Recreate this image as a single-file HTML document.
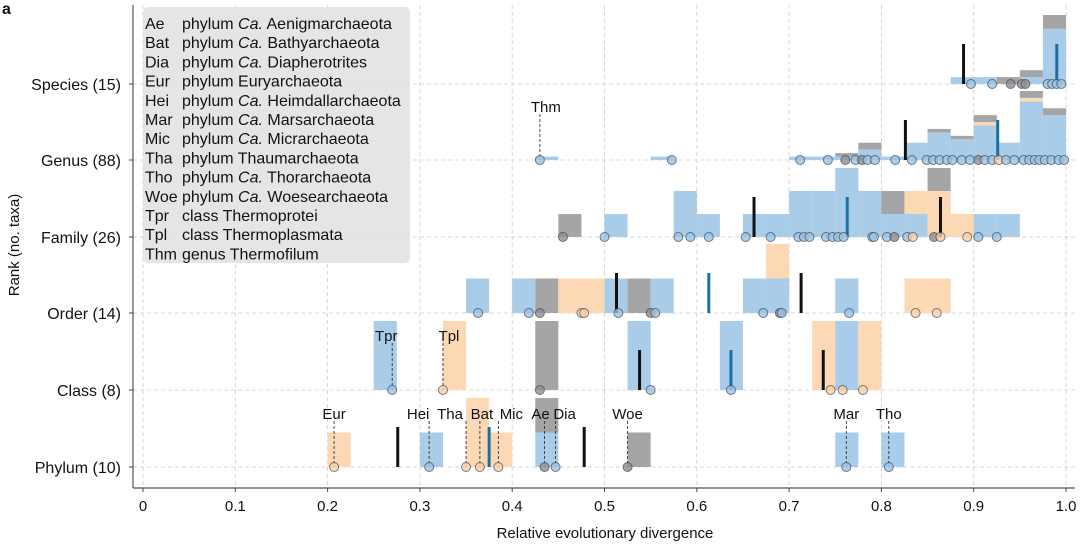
<!DOCTYPE html>
<html><head><meta charset="utf-8"><style>
body{margin:0;background:#fff}
svg{display:block;font-family:"Liberation Sans",sans-serif}
</style></head><body>
<svg id="c" width="1080" height="546"></svg>
<script>
// ---- data ----
const rowNames = ["Phylum (10)","Class (8)","Order (14)","Family (26)","Genus (88)","Species (15)"];
// bins: [binStart, blue, orange, gray]
const phylumBins = [[0.2,0,1,0],[0.3,1,0,0],[0.35,0,2,0],[0.375,0,1,0],[0.425,1,0,1],[0.525,0,0,1],[0.75,1,0,0],[0.8,1,0,0]];
const classBins = [[0.25,1,0,0],[0.325,0,1,0],[0.425,0,0,1],[0.525,1,0,0],[0.625,1,0,0],[0.725,0,1,0],[0.75,1,0,0],[0.775,0,1,0]];
const orderBins = [[0.35,1,0,0],[0.4,1,0,0],[0.425,0,0,1],[0.45,0,1,0],[0.475,0,1,0],[0.5,1,0,0],[0.525,0,0,1],[0.55,1,0,0],[0.65,1,0,0],[0.675,1,1,0],[0.75,1,0,0],[0.825,0,1,0],[0.85,0,1,0]];
const familyBins = [[0.45,0,0,1],[0.5,1,0,0],[0.575,2,0,0],[0.6,1,0,0],[0.65,1,0,0],[0.675,1,0,0],[0.7,2,0,0],[0.725,2,0,0],[0.75,3,0,0],[0.775,2,0,0],[0.8,1,0,1],[0.825,1,1,0],[0.85,0,2,1],[0.875,0,1,0],[0.9,1,0,0],[0.925,1,0,0]];
const genusBins = [[0.425,1,0,0],[0.55,1,0,0],[0.7,1,0,0],[0.725,1,0,0],[0.75,1,0,1],[0.775,3,0,2],[0.8,1,0,0],[0.825,5,0,0],[0.85,8,0,1],[0.875,6,0,1],[0.9,10,1,2],[0.925,5,0,0],[0.95,17,1,2],[0.975,13,0,2]];
const speciesBins = [[0.875,1,0,0],[0.9,1,0,0],[0.925,0,0,1],[0.95,1,0,1],[0.975,8,0,2]];
const allBins = [phylumBins,classBins,orderBins,familyBins,genusBins,speciesBins];
// points: [value, colour b/o/g]
const phylumPts = [[0.207,'o'],[0.31,'b'],[0.35,'o'],[0.365,'o'],[0.385,'o'],[0.435,'g'],[0.447,'b'],[0.525,'g'],[0.762,'b'],[0.808,'b']];
const classPts = [[0.27,'b'],[0.325,'o'],[0.43,'g'],[0.55,'b'],[0.637,'b'],[0.745,'o'],[0.758,'o'],[0.78,'o']];
const orderPts = [[0.363,'b'],[0.418,'b'],[0.43,'g'],[0.475,'o'],[0.478,'o'],[0.515,'b'],[0.55,'g'],[0.555,'b'],[0.672,'b'],[0.69,'g'],[0.692,'b'],[0.765,'b'],[0.837,'o'],[0.86,'o']];
const familyPts = [[0.455,'g'],[0.5,'b'],[0.58,'b'],[0.593,'b'],[0.613,'b'],[0.653,'b'],[0.68,'b'],[0.71,'b'],[0.716,'b'],[0.722,'b'],[0.74,'b'],[0.747,'b'],[0.753,'b'],[0.759,'b'],[0.79,'b'],[0.792,'b'],[0.806,'b'],[0.814,'g'],[0.828,'b'],[0.834,'o'],[0.857,'g'],[0.864,'o'],[0.893,'o'],[0.905,'b'],[0.925,'b']];
const genusPts = [[0.43,'b'],[0.573,'b'],[0.712,'b'],[0.742,'b'],[0.761,'g'],[0.772,'b'],[0.779,'g'],[0.785,'b'],[0.793,'b'],[0.815,'b'],[0.833,'b'],[0.849,'b'],[0.856,'b'],[0.863,'b'],[0.871,'b'],[0.877,'b'],[0.887,'b'],[0.896,'b'],[0.905,'g'],[0.912,'b'],[0.920,'b'],[0.927,'o'],[0.935,'b'],[0.944,'b'],[0.954,'b'],[0.96,'b'],[0.966,'b'],[0.971,'b'],[0.977,'b'],[0.984,'b'],[0.992,'b'],[0.998,'b']];
const speciesPts = [[0.897,'b'],[0.92,'b'],[0.94,'g'],[0.952,'g'],[0.956,'g'],[0.98,'b'],[0.985,'b'],[0.99,'b'],[0.995,'b']];
const allPts = [phylumPts,classPts,orderPts,familyPts,genusPts,speciesPts];
// median lines: [row, value, colour k/b]
const medLines = [[0,0.276,'k'],[0,0.478,'k'],[0,0.375,'b'],[1,0.538,'k'],[1,0.737,'k'],[1,0.637,'b'],[2,0.513,'k'],[2,0.713,'k'],[2,0.613,'b'],[3,0.662,'k'],[3,0.864,'k'],[3,0.763,'b'],[4,0.826,'k'],[4,0.926,'b'],[5,0.889,'k'],[5,0.99,'b']];
// labels: [row, value, text, labelY]
const annos = [[0,0.207,'Eur',413],[0,0.31,'Hei',413],[0,0.35,'Tha',413],[0,0.365,'Bat',413],[0,0.385,'Mic',413],[0,0.435,'Ae',413],[0,0.447,'Dia',413],[0,0.525,'Woe',413],[0,0.762,'Mar',413],[0,0.808,'Tho',413],[1,0.27,'Tpr',335],[1,0.325,'Tpl',335],[4,0.43,'Thm',106]];
const annoDx = [0,-11,-16,2,13,-4,9,0,0,0,-6,6,6];
const xTicks = [0,0.1,0.2,0.3,0.4,0.5,0.6,0.7,0.8,0.9,1.0];
const legendAbbr = ["Ae","Bat","Dia","Eur","Hei","Mar","Mic","Tha","Tho","Woe","Tpr","Tpl","Thm"];
const legendText = [["phylum ","Ca."," Aenigmarchaeota"],["phylum ","Ca."," Bathyarchaeota"],["phylum ","Ca."," Diapherotrites"],["phylum Euryarchaeota"],["phylum ","Ca."," Heimdallarchaeota"],["phylum ","Ca."," Marsarchaeota"],["phylum ","Ca."," Micrarchaeota"],["phylum Thaumarchaeota"],["phylum ","Ca."," Thorarchaeota"],["phylum ","Ca."," Woesearchaeota"],["class Thermoprotei"],["class Thermoplasmata"],["genus Thermofilum"]];

// ---- drawing ----
const svg=document.getElementById('c');const NS='http://www.w3.org/2000/svg';
const X=v=>143+923*v; const rowY=[467,390,313,237,160,84]; const Y=i=>rowY[i];
function el(t,a,p){const e=document.createElementNS(NS,t);for(const k in a)e.setAttribute(k,a[k]);(p||svg).appendChild(e);return e;}
const col={b:'#a9cce8',o:'#fdd8b5',g:'#a5a5a5'};
const ptCol={b:'#9cc2e2',o:'#f9cfa6',g:'#8f8f8f'};
// grid
const g0=el('g',{});
xTicks.forEach(t=>{el('line',{x1:X(t),x2:X(t),y1:5,y2:488,stroke:'#ccc','stroke-dasharray':'4,3','stroke-width':0.8},g0);});
rowY.forEach(y=>{el('line',{x1:133,x2:1075,y1:y,y2:y,stroke:'#ccc','stroke-dasharray':'4,3','stroke-width':0.8},g0);});
// bars
allBins.forEach((bins,r)=>{
  const mx=Math.max(...bins.map(b=>b[1]+b[2]+b[3]));const u=69/mx;
  bins.forEach(b=>{let y=Y(r);[['b',b[1]],['o',b[2]],['g',b[3]]].forEach(([c,n])=>{if(!n)return;const h=n*u;y-=h;
    const e=el('rect',{x:X(b[0]),y:y,width:X(b[0]+0.025)-X(b[0]),height:h,fill:col[c]});
    
    });});
});
// annotations
annos.forEach((a,i)=>{const x=X(a[1]);
  el('line',{x1:x,x2:x,y1:a[3]+8,y2:Y(a[0]),stroke:'#333','stroke-dasharray':'3,2','stroke-width':0.9});
  const t=el('text',{x:x+annoDx[i],y:a[3]+6,'text-anchor':'middle','font-size':15,fill:'#111'});t.textContent=a[2];
  
  });
// median lines
medLines.forEach(m=>{const e=el('line',{x1:X(m[1]),x2:X(m[1]),y1:Y(m[0])-40,y2:Y(m[0]),stroke:m[2]=='k'?'#111':'#1c6ea4','stroke-width':3});
  
  });
// points
allPts.forEach((pts,r)=>pts.forEach(p=>{const e=el('circle',{cx:X(p[0]),cy:Y(r),r:4.5,fill:ptCol[p[1]],'fill-opacity':0.8,stroke:'#3a4a58','stroke-opacity':0.7,'stroke-width':1});
  
  }));
// axes
el('line',{x1:133,x2:133,y1:5,y2:488,stroke:'#555','stroke-width':1.2});
el('line',{x1:133,x2:1075,y1:488,y2:488,stroke:'#555','stroke-width':1.2});
xTicks.forEach(t=>{el('line',{x1:X(t),x2:X(t),y1:488,y2:492,stroke:'#444'});
  const e=el('text',{x:X(t),y:511,'text-anchor':'middle','font-size':15,fill:'#111'});e.textContent=(t==0?'0':t.toFixed(1));
  
  });
rowNames.forEach((n,i)=>{el('line',{x1:129,x2:133,y1:Y(i),y2:Y(i),stroke:'#444'});
  const e=el('text',{x:121,y:Y(i)+6,'text-anchor':'end','font-size':16,fill:'#111'});e.textContent=n;
  
  });
const xt=el('text',{x:605,y:538,'text-anchor':'middle','font-size':15,fill:'#111'});xt.textContent='Relative evolutionary divergence';


const yt=el('text',{x:0,y:0,transform:'translate(19,245) rotate(-90)','text-anchor':'middle','font-size':15,fill:'#111'});yt.textContent='Rank (no. taxa)';


const pa=el('text',{x:2,y:14,'font-size':16,'font-weight':'bold',fill:'#111'});pa.textContent='a';


// legend
const lg=el('g',{});
el('rect',{x:143,y:7,width:267,height:256,rx:5,fill:'#e4e4e4','fill-opacity':0.95},lg);
legendAbbr.forEach((a,i)=>{const y=29+19.2*i;
  const t1=el('text',{x:145,y:y,'font-size':16,fill:'#111'},lg);t1.textContent=a;
  const t2=el('text',{x:182,y:y,'font-size':16,fill:'#111'},lg);
  legendText[i].forEach(s=>{const ts=el('tspan',{},t2);ts.textContent=s;if(s=='Ca.')ts.setAttribute('font-style','italic');});
  
  });
</script>
</body></html>
